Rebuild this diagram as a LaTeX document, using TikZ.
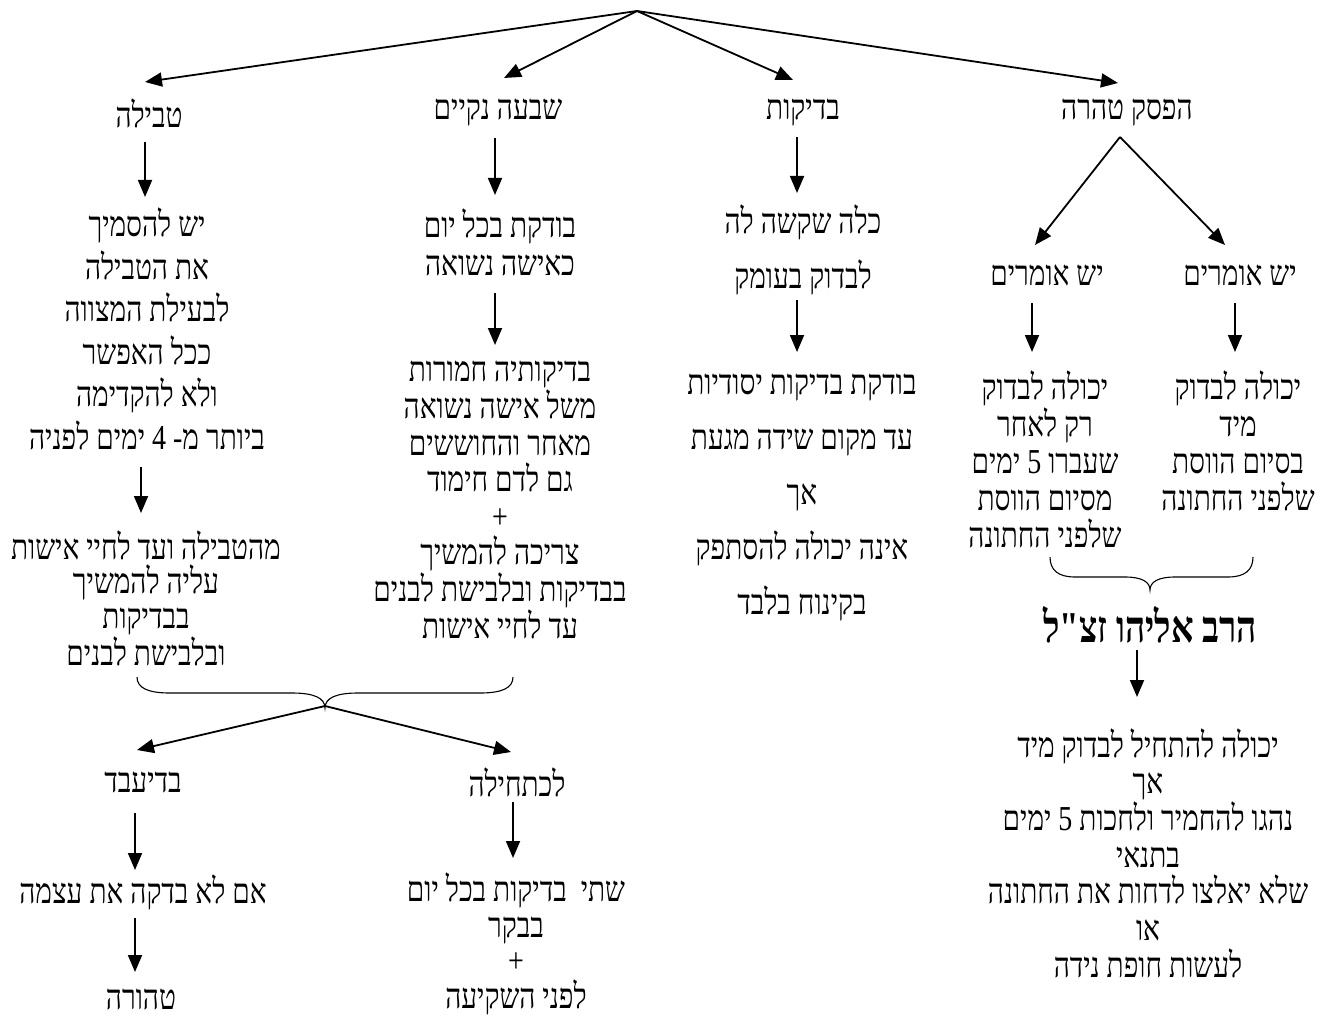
\documentclass[tikz,border=0pt]{standalone}
\usepackage{fontspec}
\usetikzlibrary{arrows.meta}
\newfontfamily\hebfont[Script=Hebrew,FakeStretch=0.8]{Liberation Serif}
\TeXXeTstate=1
\newcommand{\heb}[1]{\beginR #1\endR}
\begin{document}
\begin{tikzpicture}[x=1pt,y=-1pt,
  arr/.style={line width=1.8pt,-{Triangle[length=17pt,width=14pt]}},
  brc/.style={line width=1.1pt},
  txt/.style={align=center,inner sep=0pt,font=\hebfont\fontsize{35}{34}\selectfont},
  sk/.style={font=\hebfont\fontsize{35}{#1}\selectfont}]
\useasboundingbox[fill=white] (0,0) rectangle (1335,1016);

\coordinate (apex) at (637,11);
% titles
\node[txt] (t1) at (149,113) {\heb{טבילה}};
\node[txt] (t2) at (498,113) {\heb{שבעה נקיים}};
\node[txt] (t3) at (803,113) {\heb{בדיקות}};
\node[txt] (t4) at (1127,113) {\heb{הפסק טהרה}};
\draw[arr] (apex) -- ([shift={(-4,-31)}]t1.center);
\draw[arr] (apex) -- ([shift={(6,-35)}]t2.center);
\draw[arr] (apex) -- ([shift={(-10,-33)}]t3.center);
\draw[arr] (apex) -- ([shift={(-9,-30)}]t4.center);

% column 1
\node[txt,sk=42.5] (n1a) at (147,329) {\heb{יש להסמיך}\\\heb{את הטבילה}\\\heb{לבעילת המצווה}\\\heb{ככל האפשר}\\\heb{ולא להקדימה}\\\heb{ביותר מ- 4 ימים לפניה}};
\node[txt,sk=34.7] (n1b) at (146,598) {\heb{מהטבילה ועד לחיי אישות}\\\heb{עליה להמשיך}\\\heb{בבדיקות}\\\heb{ובלבישת לבנים}};
\draw[arr] ([shift={(-4,29)}]t1.center) -- ([shift={(-4,84)}]t1.center);
\draw[arr] ([shift={(-6,138)}]n1a.center) -- ([shift={(-6,184)}]n1a.center);

% column 2
\node[txt,sk=38] (n2a) at (500,242) {\heb{בודקת בכל יום}\\\heb{כאישה נשואה}};
\node[txt,sk=36.6] (n2b) at (500,500) {\heb{בדיקותיה חמורות}\\\heb{משל אישה נשואה}\\\heb{מאחר והחוששים}\\\heb{גם לדם חימוד}\\+\\\heb{צריכה להמשיך}\\\heb{בבדיקות ובלבישת לבנים}\\\heb{עד לחיי אישות}};
\draw[arr] ([shift={(-3,25)}]t2.center) -- ([shift={(-3,82)}]t2.center);
\draw[arr] ([shift={(-5,51)}]n2a.center) -- ([shift={(-5,103)}]n2a.center);

% column 3
\node[txt,sk=55] (n3a) at (803,250) {\heb{כלה שקשה לה}\\\heb{לבדוק בעומק}};
\node[txt,sk=54.8] (n3b) at (802,497.5) {\heb{בודקת בדיקות יסודיות}\\\heb{עד מקום שידה מגעת}\\\heb{אך}\\\heb{אינה יכולה להסתפק}\\\heb{בקינוח בלבד}};
\draw[arr] ([shift={(-6,24)}]t3.center) -- ([shift={(-6,80)}]t3.center);
\draw[arr] ([shift={(-6,50)}]n3a.center) -- ([shift={(-6,102)}]n3a.center);

% column 4
\node[txt] (ya1) at (1047,275) {\heb{יש אומרים}};
\node[txt] (ya2) at (1240,275) {\heb{יש אומרים}};
\coordinate (v4) at ([shift={(-7,24)}]t4.center);
\draw[arr] (v4) -- ([shift={(-12,-30)}]ya1.center);
\draw[arr] (v4) -- ([shift={(-15,-30)}]ya2.center);
\node[txt,sk=37] (n4a) at (1045,459) {\heb{יכולה לבדוק}\\\heb{רק לאחר}\\\heb{שעברו 5 ימים}\\\heb{מסיום הווסת}\\\heb{שלפני החתונה}};
\node[txt,sk=37] (n4b) at (1238,441) {\heb{יכולה לבדוק}\\\heb{מיד}\\\heb{בסיום הווסת}\\\heb{שלפני החתונה}};
\draw[arr] ([shift={(-15,28)}]ya1.center) -- ([shift={(-15,77)}]ya1.center);
\draw[arr] ([shift={(-5,28)}]ya2.center) -- ([shift={(-5,77)}]ya2.center);
\coordinate (rtip) at (1150,590);
\draw[brc] (1050,557) .. controls (1050,570) and (1058,577) .. (1075,577) -- (1125,577) .. controls (1142,577) and (1150,582) .. (rtip)
  .. controls (1150,582) and (1158,577) .. (1175,577) -- (1228,577) .. controls (1245,577) and (1253,570) .. (1253,557);
\node[txt,font=\hebfont\bfseries\fontsize{44}{44}\selectfont] (rav) at (1150,625) {\heb{הרב אליהו זצ"ל}};
\draw[arr] ([shift={(-13,25)}]rav.center) -- ([shift={(-13,72)}]rav.center);
\node[txt,sk=36.7] (n4c) at (1148,853) {\heb{יכולה להתחיל לבדוק מיד}\\\heb{אך}\\\heb{נהגו להחמיר ולחכות 5 ימים}\\\heb{בתנאי}\\\heb{שלא יאלצו לדחות את החתונה}\\\heb{או}\\\heb{לעשות חופת נידה}};

% bottom brace
\coordinate (btip) at (325,708);
\draw[brc] (137,677) .. controls (137,688) and (148,693) .. (170,693) -- (292,693) .. controls (314,693) and (325,698) .. (btip)
  .. controls (325,698) and (336,693) .. (358,693) -- (480,693) .. controls (502,693) and (513,688) .. (513,677);
\node[txt] (bd) at (143,782) {\heb{בדיעבד}};
\node[txt] (lk) at (517,782) {\heb{לכתחילה}};
\draw[arr] ([yshift=2pt]btip) -- ([shift={(-6,-32)}]bd.center);
\draw[arr] ([yshift=2pt]btip) -- ([shift={(-6,-30)}]lk.center);
\node[txt] (bd1) at (143,892) {\heb{אם לא בדקה את עצמה}};
\node[txt] (bd2) at (141,999) {\heb{טהורה}};
\draw[arr] ([shift={(-8,31)}]bd.center) -- ([shift={(-8,88)}]bd.center);
\draw[arr] ([shift={(-8,26)}]bd1.center) -- ([shift={(-8,80)}]bd1.center);
\node[txt,sk=35.7] (lk1) at (516,944) {\heb{שתי~ בדיקות בכל יום}\\\heb{בבקר}\\+\\\heb{לפני השקיעה}};
\draw[arr] ([shift={(-4,20)}]lk.center) -- ([shift={(-4,76)}]lk.center);
\end{tikzpicture}
\end{document}
